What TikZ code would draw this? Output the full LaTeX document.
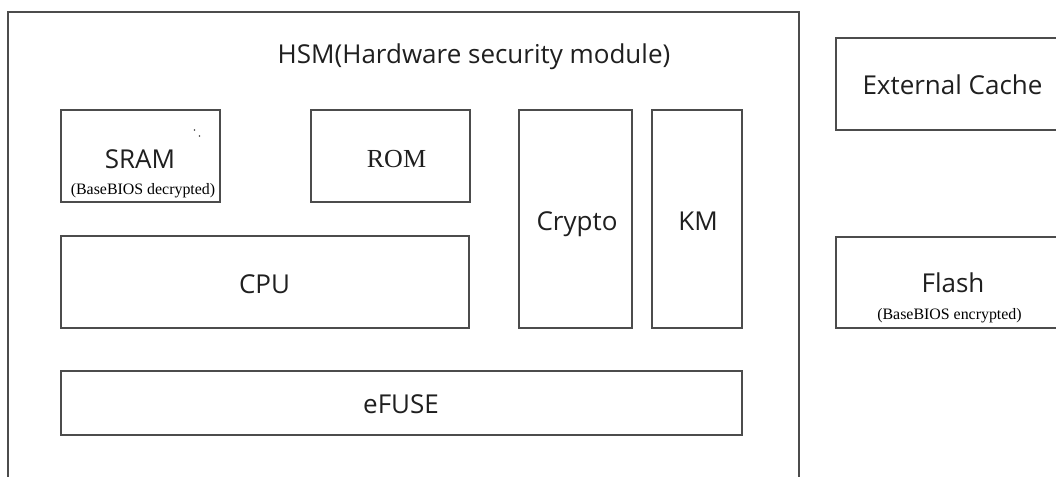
\documentclass[tikz,border=0pt]{standalone}
\usepackage{fontspec}
\setmainfont{Open Sans}
\newfontfamily\serifsmall{Liberation Serif}
\begin{document}
\begin{tikzpicture}[x=1pt,y=-1pt,
  box/.style={draw=black!70,line width=1.4pt,inner sep=0pt,outer sep=0pt},
  lbl/.style={anchor=base,inner sep=0pt,text=black!88,font=\fontsize{26}{30}\selectfont},
  romlbl/.style={anchor=base,inner sep=0pt,text=black!88,font=\serifsmall\fontsize{26}{30}\selectfont},
  note/.style={anchor=base,inner sep=0pt,text=black,font=\serifsmall\fontsize{15.9}{18}\selectfont}]
\useasboundingbox (0,0) rectangle (1056,476);
\clip (0,0) rectangle (1056,476);
\node[box,minimum width=791pt,minimum height=478pt] (hsm) at (403.5,251) {};
\node[box,minimum width=159pt,minimum height=92pt] (sram) at (140.5,156) {};
\node[box,minimum width=159pt,minimum height=92pt] (rom) at (390.5,156) {};
\node[box,minimum width=113pt,minimum height=218pt] (crypto) at (575.5,219) {};
\node[box,minimum width=90pt,minimum height=218pt] (km) at (697,219) {};
\node[box,minimum width=408pt,minimum height=92pt] (cpu) at (265,282) {};
\node[box,minimum width=681pt,minimum height=64pt] (efuse) at (401.5,403) {};
\node[box,minimum width=234pt,minimum height=92pt] (cache) at (953,84) {};
\node[box,minimum width=234pt,minimum height=91pt] (flash) at (953,282.5) {};
% labels
\node[lbl] (thsm) at (474,64) {HSM(Hardware security module)};
\node[lbl] (tsram) at (140,168) {SRAM};
\node[note] (nsram) at (143,194) {(BaseBIOS decrypted)};
\node[romlbl] (trom) at (396.5,167) {ROM};
\node[lbl] (tcrypto) at (577,230) {Crypto};
\node[lbl] (tkm) at (698,230) {KM};
\node[lbl] (tcpu) at (264.5,293) {CPU};
\node[lbl] (tefuse) at (401,413) {eFUSE};
\node[lbl] (tcache) at (952.5,95) {External Cache};
\node[lbl] (tflash) at (953,292) {Flash};
\node[note] (nflash) at (949.5,319) {(BaseBIOS encrypted)};
% stray dots near SRAM
\fill[black!75] (194.5,130) circle (0.9pt);
\fill[black!75] (199.5,136) circle (0.9pt);
\end{tikzpicture}
\end{document}
